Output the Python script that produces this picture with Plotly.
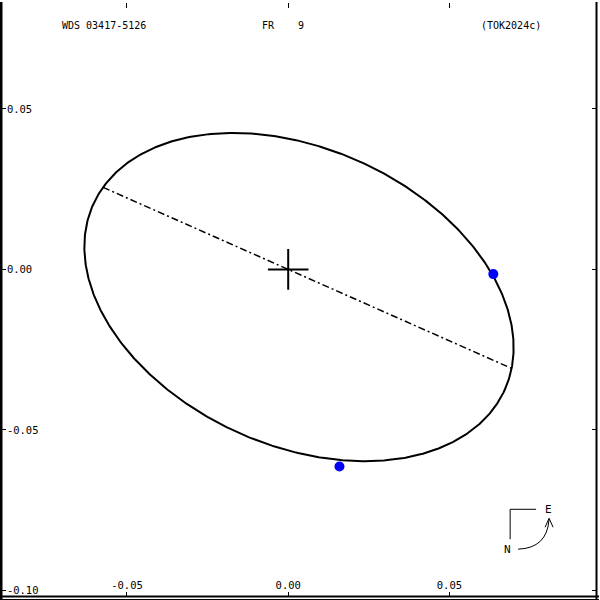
import numpy as np
import plotly.graph_objects as go

# ---- data (arcsec) ----
orbit_center = (0.00334, -0.00862)
orbit_semi_major = 0.07005
orbit_semi_minor = 0.04625
orbit_angle_deg = -24.5
node_line_angle_deg = -24.0

obs_x = [0.0636, 0.0159]
obs_y = [-0.00146, -0.0614]

x_tick_vals = [-0.05, 0.0, 0.05]
x_tick_text = ["-0.05", "0.00", "0.05"]
y_tick_vals = [0.05, 0.0, -0.05, -0.10]
y_tick_text = ["0.05", "0.00", "-0.05", "-0.10"]

x_range = [-0.08907, 0.09576]
y_range = [-0.10208, 0.08301]

title_left = "WDS 03417-5126"
title_mid = "FR\u00a0\u00a0\u00a0\u00a09"
title_right = "(TOK2024c)"

FONT = "DejaVu Sans Mono"

# ---- apparent orbit ----
t = np.linspace(0, 2 * np.pi, 721)
th = np.radians(orbit_angle_deg)
cx, cy = orbit_center
u = orbit_semi_major * np.cos(t)
v = orbit_semi_minor * np.sin(t)
ex = cx + u * np.cos(th) - v * np.sin(th)
ey = cy + u * np.sin(th) + v * np.cos(th)

# line of nodes: through primary, ends on ellipse
ph = np.radians(node_line_angle_deg)
d = np.array([np.cos(ph), np.sin(ph)])
ax_u = np.array([np.cos(th), np.sin(th)])
ax_v = np.array([-np.sin(th), np.cos(th)])
c = np.array(orbit_center)
du, dv = d @ ax_u, d @ ax_v
cu, cv = c @ ax_u, c @ ax_v
a2, b2 = orbit_semi_major ** 2, orbit_semi_minor ** 2
qa = du ** 2 / a2 + dv ** 2 / b2
qb = -2 * (du * cu / a2 + dv * cv / b2)
qc = cu ** 2 / a2 + cv ** 2 / b2 - 1
roots = np.roots([qa, qb, qc]).real
node_x = [r * d[0] for r in sorted(roots)]
node_y = [r * d[1] for r in sorted(roots)]

fig = go.Figure()
fig.add_trace(go.Scatter(x=ex, y=ey, mode="lines",
                         line=dict(color="black", width=2), hoverinfo="skip"))
fig.add_trace(go.Scatter(x=node_x, y=node_y, mode="lines",
                         line=dict(color="black", width=1.5, dash="7px,3px,2px,3px"),
                         hoverinfo="skip"))
fig.add_trace(go.Scatter(x=[0], y=[0], mode="markers",
                         marker=dict(symbol="cross-thin", size=29,
                                     line=dict(color="black", width=2))))
fig.add_trace(go.Scatter(x=obs_x, y=obs_y, mode="markers",
                         marker=dict(symbol="circle", size=10, color="#0000ff",
                                     line=dict(width=0))))

axis_common = dict(showgrid=False, zeroline=False, showline=True,
                   linecolor="rgba(0,0,0,0)", linewidth=2, mirror="ticks",
                   ticks="inside", ticklen=5, tickcolor="black", tickwidth=1,
                   ticklabelposition="inside", ticklabeloverflow="allow",
                   tickfont=dict(family=FONT, size=10.5, color="black"))
fig.update_xaxes(range=x_range, tickvals=x_tick_vals, ticktext=x_tick_text, **axis_common)
fig.update_yaxes(range=y_range, tickvals=y_tick_vals, ticktext=y_tick_text, **axis_common)

L, R, T, B = 1, 2, 1, 3
W = H = 600


def P(px, py):
    return ((px - L) / (W - L - R), (H - B - py) / (H - T - B))


def path(points):
    s = ""
    for i, (px, py) in enumerate(points):
        x, y = P(px, py)
        s += ("M" if i == 0 else "L") + f"{x:.5f},{y:.5f} "
    return s


def qpath(p0, pc, p1):
    x0, y0 = P(*p0)
    xc, yc = P(*pc)
    x1, y1 = P(*p1)
    return f"M{x0:.5f},{y0:.5f} Q{xc:.5f},{yc:.5f} {x1:.5f},{y1:.5f}"


def frame_line(p0, p1, w):
    x0, y0 = P(*p0)
    x1, y1 = P(*p1)
    return dict(type="line", xref="paper", yref="paper", x0=x0, y0=y0, x1=x1, y1=y1,
                line=dict(color="black", width=w))


shapes = [
    # frame: left, bottom (double), right
    frame_line((1, 0), (1, 600), 3),
    frame_line((0, 596.5), (600, 596.5), 2),
    frame_line((0, 599.5), (600, 599.5), 1),
    frame_line((597.5, 0), (597.5, 600), 2),
    # compass
    dict(type="path", xref="paper", yref="paper",
         path=path([(537, 509), (511, 509), (511, 539)]),
         line=dict(color="black", width=1)),
    dict(type="path", xref="paper", yref="paper",
         path=qpath((519, 549), (548, 548), (550, 519)),
         line=dict(color="black", width=1)),
    dict(type="path", xref="paper", yref="paper",
         path=path([(546, 527), (550, 518), (554, 527)]),
         line=dict(color="black", width=1)),
]

annotations = []
for txt, px in [(title_left, 60), (title_mid, 260), (title_right, 480)]:
    x, y = P(px, 24)
    annotations.append(dict(text=txt, x=x, y=y, xref="paper", yref="paper",
                            xanchor="left", yanchor="middle", showarrow=False,
                            font=dict(family=FONT, size=10, color="black")))
for txt, (px, py) in [("E", (549, 509)), ("N", (508, 549))]:
    x, y = P(px, py)
    annotations.append(dict(text=txt, x=x, y=y, xref="paper", yref="paper",
                            xanchor="center", yanchor="middle", showarrow=False,
                            font=dict(family=FONT, size=11, color="black")))

fig.update_layout(width=W, height=H, margin=dict(l=L, r=R, t=T, b=B),
                  plot_bgcolor="white", paper_bgcolor="white", showlegend=False,
                  shapes=shapes, annotations=annotations)

fig.write_html("out.html", config={"displayModeBar": False},
               post_script="document.body.style.margin='0px';document.body.style.overflow='hidden';")
